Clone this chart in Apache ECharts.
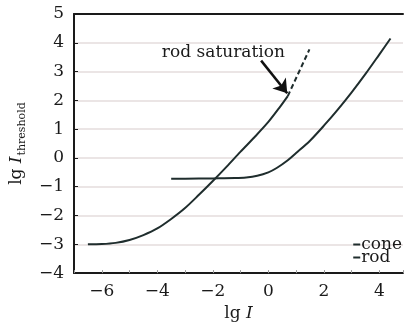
<!DOCTYPE html>
<html>
<head>
<meta charset="utf-8">
<script src="https://cdn.jsdelivr.net/npm/echarts@6/dist/echarts.min.js"></script>
<style>
  html, body {margin: 0; padding: 0; background: #fff;}
  #chart {width: 406px; height: 327px;}
</style>
</head>
<body>
<div id="chart"></div>
<script>
// rod curve (lg I, lg I_threshold)
const rodX = [-6.5, -6.0, -5.5, -5.0, -4.5, -4.0, -3.5, -3.0, -2.5, -2.0, -1.5, -1.0, -0.5, 0.0, 0.4, 0.7];
const rodY = [-3.0, -2.99, -2.95, -2.85, -2.68, -2.45, -2.12, -1.74, -1.28, -0.8, -0.3, 0.22, 0.72, 1.25, 1.75, 2.15];
// cone curve
const coneX = [-3.5, -3.0, -2.0, -1.2, -0.8, -0.4, 0.0, 0.3, 0.7, 1.0, 1.5, 2.0, 2.5, 3.0, 3.5, 4.0, 4.4];
const coneY = [-0.72, -0.72, -0.71, -0.7, -0.68, -0.62, -0.5, -0.35, -0.08, 0.17, 0.6, 1.12, 1.68, 2.28, 2.92, 3.6, 4.15];
// dashed rod continuation after saturation
const satX = [0.7, 1.48];
const satY = [2.15, 3.77];
// annotation
const noteText = 'rod saturation';
const notePos = [-1.62, 3.66];
const arrowFrom = [-0.26, 3.38];
const arrowTo = [0.68, 2.25];

const xMin = -7, xMax = 4.85;
const yMin = -4, yMax = 5;

const zip = (xs, ys) => xs.map((x, i) => [x, ys[i]]);
const minus = v => String(v).replace('-', '\u2212');

const font = 'DejaVu Serif';
const ink = '#1a1a1a';
const lineCol = '#1f2d2d';

const chart = echarts.init(document.getElementById('chart'));
chart.setOption({
    animation: false,
    grid: {left: 70, right: 0, top: 14, bottom: 50},
    legend: {
        data: ['cone', 'rod'],
        orient: 'vertical',
        right: -1,
        top: 231,
        icon: 'rect',
        itemWidth: 7,
        itemHeight: 2,
        itemGap: -4,
        textStyle: {fontFamily: font, fontSize: 17, color: ink, padding: [0, 0, 0, -4]}
    },
    xAxis: [{
        type: 'value',
        min: xMin,
        max: xMax,
        interval: 1,
        name: '{a|lg }{i|I}',
        nameLocation: 'middle',
        nameGap: 31,
        nameTextStyle: {
            rich: {
                a: {fontFamily: font, fontSize: 17, color: ink},
                i: {fontFamily: font, fontSize: 17, color: ink, fontStyle: 'italic'}
            }
        },
        axisLine: {onZero: false, lineStyle: {color: ink, width: 2}},
        axisTick: {inside: true, length: 3, lineStyle: {color: '#999'}},
        axisLabel: {
            margin: 10,
            fontFamily: font, fontSize: 17, color: ink,
            formatter: v => (Math.abs(v % 2) < 1e-6 ? minus(v) : '')
        },
        splitLine: {show: false}
    }, {
        type: 'value',
        position: 'top',
        min: xMin,
        max: xMax,
        axisLine: {show: true, onZero: false, lineStyle: {color: ink, width: 2}},
        axisTick: {show: false},
        axisLabel: {show: false},
        splitLine: {show: false}
    }],
    yAxis: {
        type: 'value',
        min: yMin,
        max: yMax,
        interval: 1,
        name: '{a|lg }{i|I}{s|threshold}',
        nameLocation: 'middle',
        nameGap: 46,
        nameRotate: 90,
        nameTextStyle: {
            rich: {
                a: {fontFamily: font, fontSize: 17, color: ink},
                i: {fontFamily: font, fontSize: 17, color: ink, fontStyle: 'italic'},
                s: {fontFamily: font, fontSize: 11, color: ink, padding: [12, 0, 0, 1]}
            }
        },
        axisLine: {show: true, onZero: false, lineStyle: {color: ink, width: 2}},
        axisTick: {show: true, inside: true, length: 4, lineStyle: {color: ink}},
        axisLabel: {margin: 10, fontFamily: font, fontSize: 17, color: ink, formatter: minus},
        splitLine: {lineStyle: {color: '#e4dcdc', width: 1.5}}
    },
    series: [{
        name: 'cone',
        type: 'line',
        data: zip(coneX, coneY),
        smooth: 0.3,
        showSymbol: false,
        color: lineCol,
        lineStyle: {color: lineCol, width: 2}
    }, {
        name: 'rod',
        type: 'line',
        data: zip(rodX, rodY),
        smooth: 0.3,
        showSymbol: false,
        color: lineCol,
        lineStyle: {color: lineCol, width: 2}
    }, {
        name: 'saturation',
        type: 'line',
        data: zip(satX, satY),
        showSymbol: false,
        color: lineCol,
        lineStyle: {color: lineCol, width: 2, type: [5, 3]},
        markLine: {
            silent: true,
            symbol: ['none', 'arrow'],
            symbolSize: 13,
            label: {show: false},
            lineStyle: {color: '#111', width: 2.5, type: 'solid'},
            data: [[{coord: arrowFrom}, {coord: arrowTo}]]
        },
        markPoint: {
            silent: true,
            symbol: 'circle',
            symbolSize: 1,
            itemStyle: {color: 'rgba(0,0,0,0)'},
            label: {show: true, position: 'inside', formatter: noteText, fontFamily: font, fontSize: 17, color: ink},
            data: [{coord: notePos}]
        }
    }]
});
</script>
</body>
</html>
